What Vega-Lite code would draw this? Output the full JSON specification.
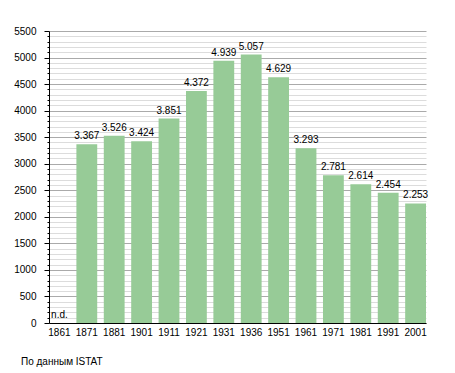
{
  "$schema": "https://vega.github.io/schema/vega-lite/v6.json",
  "width": 377,
  "height": 292,
  "autosize": {"type": "none"},
  "padding": {"left": 49, "top": 31, "right": 29, "bottom": 50},
  "background": "#ffffff",
  "title": {
    "text": "По данным ISTAT",
    "orient": "bottom",
    "anchor": "start",
    "frame": "group",
    "offset": 20,
    "dx": -28,
    "fontSize": 10,
    "fontWeight": "normal",
    "font": "Liberation Sans",
    "color": "#000000",
    "baseline": "top"
  },
  "data": {
    "values": [
      {"year": "1861", "value": null, "note": "n.d."},
      {"year": "1871", "value": 3367},
      {"year": "1881", "value": 3526},
      {"year": "1901", "value": 3424},
      {"year": "1911", "value": 3851},
      {"year": "1921", "value": 4372},
      {"year": "1931", "value": 4939},
      {"year": "1936", "value": 5057},
      {"year": "1951", "value": 4629},
      {"year": "1961", "value": 3293},
      {"year": "1971", "value": 2781},
      {"year": "1981", "value": 2614},
      {"year": "1991", "value": 2454},
      {"year": "2001", "value": 2253}
    ]
  },
  "encoding": {
    "x": {
      "field": "year",
      "type": "nominal",
      "sort": null,
      "scale": {"domain": ["1861","1871","1881","1901","1911","1921","1931","1936","1951","1961","1971","1981","1991","2001"], "paddingInner": 0.24, "paddingOuter": 0},
      "axis": {
        "title": null,
        "labelAngle": 0,
        "ticks": false,
        "labelPadding": 4,
        "labelFontSize": 10,
        "domainColor": "#000000",
        "domainWidth": 1
      }
    }
  },
  "layer": [
    {
      "mark": {"type": "bar", "color": "#97cb97"},
      "transform": [{"filter": "isValid(datum.value)"}],
      "encoding": {
        "y": {
          "field": "value",
          "type": "quantitative",
          "scale": {"domain": [0, 5500], "nice": false},
          "axis": {
            "title": null,
            "values": [0,100,200,300,400,500,600,700,800,900,1000,1100,1200,1300,1400,1500,1600,1700,1800,1900,2000,2100,2200,2300,2400,2500,2600,2700,2800,2900,3000,3100,3200,3300,3400,3500,3600,3700,3800,3900,4000,4100,4200,4300,4400,4500,4600,4700,4800,4900,5000,5100,5200,5300,5400,5500],
            "tickCount": 100,
            "format": "d",
            "labelOverlap": false,
            "labelBound": false,
            "labelExpr": "datum.value % 500 === 0 ? datum.label : ''",
            "ticks": true,
            "tickSize": {"condition": {"test": "datum.value % 500 === 0", "value": 5}, "value": 2},
            "gridColor": {"condition": {"test": "datum.value % 500 === 0", "value": "#aaaaaa"}, "value": "#dcdcdc"},
            "grid": true,
            "labelPadding": 8,
            "labelFontSize": 10,
            "domainColor": "#000000",
            "tickColor": "#000000"
          }
        }
      }
    },
    {
      "mark": {"type": "text", "baseline": "alphabetic", "dy": -5, "fontSize": 10, "font": "Liberation Sans", "color": "#000000"},
      "transform": [
        {"filter": "isValid(datum.value)"},
        {"calculate": "replace(format(datum.value, ',d'), ',', '.')", "as": "label"}
      ],
      "encoding": {
        "y": {"field": "value", "type": "quantitative"},
        "text": {"field": "label", "type": "nominal"}
      }
    },
    {
      "mark": {"type": "text", "baseline": "alphabetic", "dy": -5, "fontSize": 10, "font": "Liberation Sans", "color": "#000000"},
      "transform": [{"filter": "datum.note != null"}],
      "encoding": {
        "y": {"datum": 0, "type": "quantitative"},
        "text": {"field": "note", "type": "nominal"}
      }
    }
  ],
  "config": {
    "font": "Liberation Sans",
    "view": {"stroke": null},
    "axis": {"labelColor": "#000000", "labelFont": "Liberation Sans"}
  }
}
